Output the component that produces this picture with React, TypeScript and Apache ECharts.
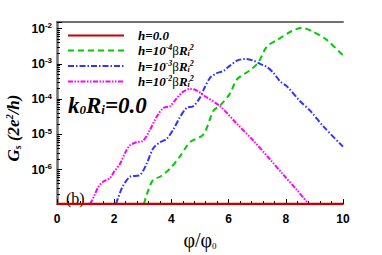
import React, { useEffect, useRef } from "react";
import * as echarts from "echarts";

// phi/phi0 positions and Gs values (units of 2e^2/h)
const redX = [0, 10];
const redY = [1.06e-7, 1.06e-7];

const greenX = [3.04, 3.13, 3.36, 3.6, 3.95, 4.3, 4.65, 5.12, 5.47, 5.7, 6.05, 6.29, 6.75, 7.04, 7.34, 7.69, 8.21, 8.56, 8.91, 9.44, 9.96, 10.0];
const greenY = [1.06e-7, 1.9e-7, 5.2e-7, 6.3e-7, 1.07e-6, 2.4e-6, 6.0e-6, 1.0e-5, 4.7e-5, 6.6e-5, 1.45e-4, 3.6e-4, 6.6e-4, 1.1e-3, 3.1e-3, 4.7e-3, 8.5e-3, 1.05e-2, 8.5e-3, 4.7e-3, 1.86e-3, 1.8e-3];

const blueX = [2.06, 2.2, 2.31, 2.55, 2.9, 3.13, 3.36, 3.6, 3.83, 4.06, 4.3, 4.53, 4.76, 5.0, 5.12, 5.35, 5.58, 5.82, 6.05, 6.29, 6.6, 6.9, 7.1, 7.34, 7.58, 7.8, 8.04, 8.5, 8.85, 9.32, 10.0];
const blueY = [1.06e-7, 2.2e-7, 3.5e-7, 6.3e-7, 7.1e-7, 1.45e-6, 4.0e-6, 6.0e-6, 7.4e-6, 1.35e-5, 3.1e-5, 5.6e-5, 6.3e-5, 1.1e-4, 1.8e-4, 4.0e-4, 5.4e-4, 6.3e-4, 8.9e-4, 1.23e-3, 1.38e-3, 1.2e-3, 1.0e-3, 8.1e-4, 5.4e-4, 3.2e-4, 2.3e-4, 8.7e-5, 4.7e-5, 1.66e-5, 4.5e-6];

const magX = [1.15, 1.3, 1.44, 1.6, 1.85, 2.0, 2.2, 2.4, 2.55, 2.78, 3.01, 3.25, 3.48, 3.72, 3.95, 4.18, 4.4, 4.65, 4.9, 5.12, 5.7, 6.29, 6.87, 7.45, 7.92, 8.4, 8.8];
const magY = [1.06e-7, 1.8e-7, 3.2e-7, 4.5e-7, 5.8e-7, 8.9e-7, 1.45e-6, 3.2e-6, 4.9e-6, 6.0e-6, 6.6e-6, 1.35e-5, 3.1e-5, 5.6e-5, 6.3e-5, 1.05e-4, 1.6e-4, 1.95e-4, 1.74e-4, 1.29e-4, 6.3e-5, 2.0e-5, 6.6e-6, 1.95e-6, 7.1e-7, 2.6e-7, 1.06e-7];

const xTicks = [0, 2, 4, 6, 8, 10];
const yDecades = [-6, -5, -4, -3, -2];

const seriesNames = ["h0", "h4", "h3", "h2"];
const legendLabels: Record<string, string> = {
  h0: "{h|h=0.0}",
  h4: "{h|h=10}{sup|-4}{b|β}{t|R}{sub|i}{sup|2}",
  h3: "{h|h=10}{sup|-3}{b|β}{t|R}{sub|i}{sup|2}",
  h2: "{h|h=10}{sup|-2}{b|β}{t|R}{sub|i}{sup|2}",
};

const zip = (xs: number[], ys: number[]) => xs.map((x, i) => [x, ys[i]]);

const SERIF = "'Liberation Serif', 'DejaVu Serif', serif";
const SANS = "'Liberation Sans', Arial, sans-serif";

export default function App() {
  const ref = useRef<HTMLDivElement>(null);
  useEffect(() => {
    if (!ref.current) return;
    const chart = echarts.init(ref.current, null, { renderer: "svg" });
    const lineSeries = (name: string, data: number[][], color: string, width: number, dash: any) => ({
      name,
      type: "line",
      data,
      xAxisIndex: 0,
      yAxisIndex: 0,
      showSymbol: false,
      symbol: "none",
      smooth: 0.3,
      clip: true,
      itemStyle: { color },
      lineStyle: { color, width, type: dash },
    });
    const tStyle = { fontFamily: SERIF, fontStyle: "italic", fontWeight: "bold", fontSize: 13, lineHeight: 14, color: "#000" };
    chart.setOption({
      animation: false,
      grid: { left: 57, right: 39, top: 22, bottom: 39, containLabel: false },
      legend: {
        orient: "vertical",
        left: 62,
        top: 24,
        itemWidth: 56,
        itemHeight: 12,
        itemGap: 1.5,
        data: seriesNames.map((name) => ({ name, itemStyle: { opacity: 0 } })),
        formatter: (n: string) => legendLabels[n],
        textStyle: {
          rich: {
            h: { ...tStyle, padding: [0, 0, 0, 9] },
            t: tStyle,
            b: { fontFamily: SERIF, fontSize: 13, lineHeight: 14, color: "#000" },
            sup: { fontFamily: SERIF, fontStyle: "italic", fontWeight: "bold", fontSize: 8, verticalAlign: "top", lineHeight: 8, color: "#000" },
            sub: { fontFamily: SERIF, fontStyle: "italic", fontWeight: "bold", fontSize: 8, verticalAlign: "bottom", lineHeight: 8, color: "#000" },
          },
        },
      },
      xAxis: [
        {
          type: "value",
          min: 0,
          max: 10,
          interval: 2,
          position: "bottom",
          name: "{p|φ/φ}{s|0}",
          nameLocation: "middle",
          nameGap: 25,
          nameTextStyle: {
            rich: {
              p: { fontFamily: SERIF, fontSize: 20, color: "#000" },
              s: { fontFamily: SERIF, fontSize: 9, color: "#000", verticalAlign: "bottom", lineHeight: 9 },
            },
          },
          axisLine: { lineStyle: { color: "#000", width: 1 } },
          axisTick: { inside: true, length: 5, lineStyle: { color: "#000" } },
          minorTick: { show: true, splitNumber: 5, length: 3, lineStyle: { color: "#000" } },
          splitLine: { show: false },
          axisLabel: {
            margin: 9,
            fontFamily: SANS,
            fontWeight: "bold",
            fontSize: 12,
            color: "#000",
            formatter: (v: number) => (xTicks.includes(v) ? String(v) : ""),
          },
        },
        {
          type: "value",
          min: 0,
          max: 10,
          position: "top",
          axisLine: { lineStyle: { color: "#707070", width: 2 } },
          axisTick: { show: false },
          axisLabel: { show: false },
          splitLine: { show: false },
        },
      ],
      yAxis: [
        {
          type: "log",
          logBase: 10,
          min: 1.06e-7,
          max: 0.0153,
          position: "left",
          axisLine: { show: true, lineStyle: { color: "#000", width: 1 } },
          axisTick: { inside: true, length: 5, lineStyle: { color: "#000" } },
          minorTick: { show: true, splitNumber: 9, length: 3, lineStyle: { color: "#000" } },
          splitLine: { show: false },
          axisLabel: {
            margin: 5,
            color: "#000",
            showMinLabel: false,
            showMaxLabel: false,
            formatter: (v: number) => {
              const e = Math.log10(v);
              const r = Math.round(e);
              if (Math.abs(e - r) > 0.01 || !yDecades.includes(r)) return "";
              return `{b|10}{s|${r}}`;
            },
            rich: {
              b: { fontFamily: SANS, fontWeight: "bold", fontSize: 12, lineHeight: 14, color: "#000" },
              s: { fontFamily: SANS, fontWeight: "bold", fontSize: 8, verticalAlign: "top", lineHeight: 8, color: "#000" },
            },
          },
        },
        {
          type: "value",
          min: 0,
          max: 1,
          position: "right",
          axisLine: { show: true, lineStyle: { color: "#707070", width: 2.5 } },
          axisTick: { show: false },
          axisLabel: { show: false },
          splitLine: { show: false },
        },
      ],
      graphic: [
        {
          type: "text",
          left: 68,
          top: 94,
          style: {
            text: "{k|k}{s|0}{k|R}{s|i}{k|=0.0}",
            rich: {
              k: { fontFamily: SERIF, fontStyle: "italic", fontWeight: "bold", fontSize: 23, lineHeight: 21, fill: "#000" },
              s: { fontFamily: SERIF, fontStyle: "italic", fontWeight: "bold", fontSize: 13, verticalAlign: "bottom", lineHeight: 12, fill: "#000" },
            },
          },
        },
        {
          type: "text",
          left: 66,
          top: 190,
          style: { text: "(b)", font: `16px ${SERIF}`, fill: "#000" },
        },
        {
          type: "text",
          x: 13,
          y: 128,
          rotation: Math.PI / 2,
          style: {
            text: "{g|G}{s|s}{g| (2e}{p|2}{g|/h)}",
            align: "center",
            verticalAlign: "middle",
            rich: {
              g: { fontFamily: SERIF, fontStyle: "italic", fontWeight: "bold", fontSize: 17, lineHeight: 18, fill: "#000" },
              s: { fontFamily: SERIF, fontStyle: "italic", fontWeight: "bold", fontSize: 10, verticalAlign: "bottom", lineHeight: 10, fill: "#000" },
              p: { fontFamily: SERIF, fontStyle: "italic", fontWeight: "bold", fontSize: 10, verticalAlign: "top", lineHeight: 10, fill: "#000" },
            },
          },
        },
      ],
      series: [
        lineSeries("h4", zip(greenX, greenY), "#00cc00", 2, [6, 4]),
        lineSeries("h3", zip(blueX, blueY), "#3333ff", 2, [6, 2, 1.5, 2]),
        lineSeries("h2", zip(magX, magY), "#ff00ff", 2, [5, 1.5, 1.5, 1.5, 1.5, 1.5]),
        lineSeries("h0", zip(redX, redY), "#cc0000", 2.5, "solid"),
      ],
    });
    return () => chart.dispose();
  }, []);
  return <div ref={ref} style={{ width: 382, height: 255, position: "absolute", left: 0, top: 0 }} />;
}
